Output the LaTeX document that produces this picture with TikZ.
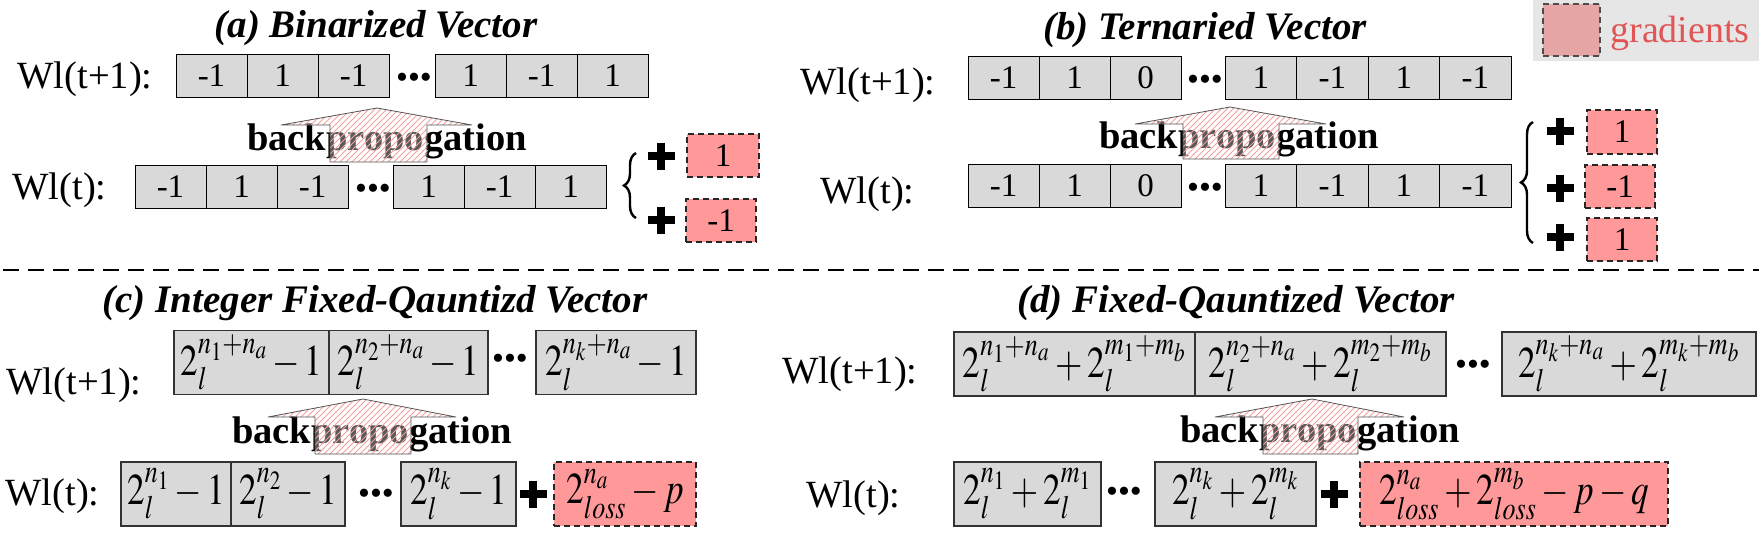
\documentclass[tikz,border=0pt]{standalone}
\usepackage{graphicx}
\usepackage{mathptmx}
\usepackage{fontspec}
\setmainfont{Liberation Serif}
\usetikzlibrary{patterns,decorations.pathreplacing}
\definecolor{cellgray}{HTML}{D9D9D9}
\definecolor{gradpink}{HTML}{FF9999}
\definecolor{legpink}{HTML}{E6A6A6}
\definecolor{legbg}{HTML}{E6E6E6}
\definecolor{legred}{HTML}{E05555}
\definecolor{arrowline}{HTML}{555555}
\definecolor{hatchpink}{HTML}{F2A0A0}

\newcommand{\titlefont}{\fontsize{19.5pt}{23pt}\selectfont\bfseries\itshape}
\newcommand{\lblfont}{\fontsize{19.25pt}{23pt}\selectfont}
\newcommand{\cellfont}{\fontsize{16.5pt}{20pt}\selectfont}
\newcommand{\bpfont}{\fontsize{19.25pt}{23pt}\selectfont\bfseries}
\newcommand{\eqfont}{\fontsize{22pt}{26pt}\selectfont}
\newcommand{\dotfont}{\fontsize{17pt}{20pt}\selectfont}
\newcommand{\legfont}{\fontsize{19pt}{23pt}\selectfont}
\newcommand{\qexpr}[1]{\scalebox{0.8}[1]{$#1$}}
\newcommand{\bigplus}[2]{\draw[line width=4pt] ({#1-13.5},#2) -- ({#1+13.5},#2) (#1,{#2-13.5}) -- (#1,{#2+13.5});}

\tikzset{
  wd/.style={minimum width=#1*0.5pt},
  ht/.style={minimum height=#1*0.5pt},
  cell/.style={draw=black, line width=0.5pt, fill=cellgray, inner sep=0pt, font=\cellfont, ht=43},
  bigcell/.style={draw=black!80, line width=0.8pt, fill=cellgray, inner sep=0pt, font=\eqfont, ht=64},
  gradbox/.style={draw=black!85, dash pattern=on 3pt off 2pt, line width=0.6pt, fill=gradpink, inner sep=0pt, font=\cellfont, ht=43},
  title/.style={anchor=base, inner sep=0pt, font=\titlefont},
  wlabel/.style={anchor=base east, inner sep=0pt, font=\lblfont},
  bptext/.style={anchor=base, inner sep=0pt, font=\bpfont},
  rowdots/.style={inner sep=0pt, font=\dotfont},
  bparrow/.style={draw=arrowline, line width=0.4pt, pattern=north east lines, pattern color=hatchpink, preaction={fill=white, fill opacity=0.35}},
  vbrace/.style={decorate, decoration={brace, amplitude=6pt}, line width=1.2pt},
}

\begin{document}
\begin{tikzpicture}[x=0.5pt,y=-0.5pt]
\useasboundingbox (0,0) rectangle (1759,532);
% legend
\fill[legbg] (1533,0) rectangle (1759,61);
\node[gradbox, fill=legpink, draw=black!70, wd=57, ht=52] (legbox) at (1571.5,30) {};
\node[anchor=base west, inner sep=0pt, font=\legfont, text=legred] (legtext) at (1610,42) {gradients};

% (a) binarized
\node[title] (atitle) at (376,37) {(a) Binarized Vector};
\node[wlabel] (aupl) at (153,88) {Wl(t+1):};
\node[cell,wd=71] (au1) at (211.5,75.5) {-1};
\node[cell,wd=71] (au2) at (282.5,75.5) {1};
\node[cell,wd=71] (au3) at (353.5,75.5) {-1};
\node[rowdots] (audots) at (414,81) {•••};
\node[cell,wd=71] (au4) at (470.5,75.5) {1};
\node[cell,wd=71] (au5) at (541.5,75.5) {-1};
\node[cell,wd=71] (au6) at (612.5,75.5) {1};
\node[bptext] (abp) at (387,150) {backpropogation};
\draw[bparrow] (281,125) -- (377,108) -- (472,125) -- (427,125) -- (427,162) -- (330,162) -- (330,125) -- cycle;
\node[wlabel] (adnl) at (107,199) {Wl(t):};
\node[cell,wd=71] (ad1) at (170.5,186.5) {-1};
\node[cell,wd=71] (ad2) at (241.5,186.5) {1};
\node[cell,wd=71] (ad3) at (312.5,186.5) {-1};
\node[rowdots] (addots) at (373,192) {•••};
\node[cell,wd=71] (ad4) at (428.5,186.5) {1};
\node[cell,wd=71] (ad5) at (499.5,186.5) {-1};
\node[cell,wd=71] (ad6) at (570.5,186.5) {1};
\coordinate (abrb) at (636,218);
\coordinate (abrt) at (636,153);
\draw[vbrace] (abrb) -- (abrt);
\bigplus{661}{156}
\bigplus{661}{220}
\node[gradbox,wd=72] (ag1) at (723,155.5) {1};
\node[gradbox,wd=70] (ag2) at (721,220.5) {-1};

% (b) ternaried
\node[title] (btitle) at (1205,39) {(b) Ternaried Vector};
\node[wlabel] (bupl) at (936,94) {Wl(t+1):};
\node[cell,wd=71] (bu1) at (1003.5,77.5) {-1};
\node[cell,wd=71] (bu2) at (1074.5,77.5) {1};
\node[cell,wd=71] (bu3) at (1145.5,77.5) {0};
\node[rowdots] (budots) at (1205,83) {•••};
\node[cell,wd=71.5] (bu4) at (1260.75,77.5) {1};
\node[cell,wd=71.5] (bu5) at (1332.25,77.5) {-1};
\node[cell,wd=71.5] (bu6) at (1403.75,77.5) {1};
\node[cell,wd=71.5] (bu7) at (1475.25,77.5) {-1};
\node[bptext] (bbp) at (1239,148) {backpropogation};
\draw[bparrow] (1135,124) -- (1230,107) -- (1326,124) -- (1279,124) -- (1279,159) -- (1183,159) -- (1183,124) -- cycle;
\node[wlabel] (bdnl) at (915,203) {Wl(t):};
\node[cell,wd=71] (bd1) at (1003.5,185.5) {-1};
\node[cell,wd=71] (bd2) at (1074.5,185.5) {1};
\node[cell,wd=71] (bd3) at (1145.5,185.5) {0};
\node[rowdots] (bddots) at (1205,191) {•••};
\node[cell,wd=71.5] (bd4) at (1260.75,185.5) {1};
\node[cell,wd=71.5] (bd5) at (1332.25,185.5) {-1};
\node[cell,wd=71.5] (bd6) at (1403.75,185.5) {1};
\node[cell,wd=71.5] (bd7) at (1475.25,185.5) {-1};
\coordinate (bbrb) at (1533,243);
\coordinate (bbrt) at (1533,122);
\draw[vbrace] (bbrb) -- (bbrt);
\bigplus{1560}{131}
\bigplus{1560}{188}
\bigplus{1560}{237}
\node[gradbox,wd=70,ht=44] (bg1) at (1622,132) {1};
\node[gradbox,wd=70] (bg2) at (1620,186.5) {-1};
\node[gradbox,wd=70] (bg3) at (1622,239.5) {1};

% separator
\coordinate (sepl) at (3,270);
\coordinate (sepr) at (1759,270);
\draw[dash pattern=on 8pt off 4.5pt, line width=1pt] (sepl) -- (sepr);

% (c) integer fixed
\node[title] (ctitle) at (375,312) {(c) Integer Fixed-Qauntizd Vector};
\node[wlabel] (cupl) at (142,394) {Wl(t+1):};
\node[bigcell,wd=155] (cu1) at (251.5,362.5) {\qexpr{2_l^{n_1+n_a}-1}};
\node[bigcell,wd=159] (cu2) at (408.5,362.5) {\qexpr{2_l^{n_2+n_a}-1}};
\node[rowdots] (cudots) at (510,362) {•••};
\node[bigcell,wd=160] (cu3) at (616,362.5) {\qexpr{2_l^{n_k+n_a}-1}};
\node[bptext] (cbp) at (372,443) {backpropogation};
\draw[bparrow] (268,417) -- (363,399) -- (456,417) -- (411,417) -- (411,454) -- (315,454) -- (315,417) -- cycle;
\node[wlabel] (cdnl) at (100,505) {Wl(t):};
\node[bigcell,wd=110] (cd1) at (176,494) {\qexpr{2_l^{n_1}-1}};
\node[bigcell,wd=114] (cd2) at (288,494) {\qexpr{2_l^{n_2}-1}};
\node[rowdots] (cddots) at (376,497) {•••};
\node[bigcell,wd=115] (cd3) at (458.5,494) {\qexpr{2_l^{n_k}-1}};
\bigplus{533}{494}
\node[gradbox,font=\eqfont,wd=142,ht=64] (cg1) at (625,494) {\qexpr{2_{loss}^{n_a}-p}};

% (d) fixed quantized
\node[title] (dtitle) at (1236,312) {(d) Fixed-Qauntized Vector};
\node[wlabel] (dupl) at (918,383) {Wl(t+1):};
\node[bigcell,wd=241] (du1) at (1074.5,364) {\qexpr{2_l^{n_1+n_a}+2_l^{m_1+m_b}}};
\node[bigcell,wd=251] (du2) at (1320.5,364) {\qexpr{2_l^{n_2+n_a}+2_l^{m_2+m_b}}};
\node[rowdots] (dudots) at (1473,368) {•••};
\node[bigcell,wd=254] (du3) at (1629,364) {\qexpr{2_l^{n_k+n_a}+2_l^{m_k+m_b}}};
\node[bptext] (dbp) at (1320,442) {backpropogation};
\draw[bparrow] (1215,417) -- (1312,399) -- (1404,417) -- (1358,417) -- (1358,454) -- (1263,454) -- (1263,417) -- cycle;
\node[wlabel] (ddnl) at (901,507) {Wl(t):};
\node[bigcell,wd=147] (dd1) at (1027.5,494) {\qexpr{2_l^{n_1}+2_l^{m_1}}};
\node[rowdots] (dddots) at (1124,495) {•••};
\node[bigcell,wd=161] (dd2) at (1235.5,494) {\qexpr{2_l^{n_k}+2_l^{m_k}}};
\bigplus{1334}{494}
\node[gradbox,font=\eqfont,wd=308,ht=64] (dg1) at (1514,494) {\qexpr{2_{loss}^{n_a}+2_{loss}^{m_b}-p-q}};
\end{tikzpicture}
\end{document}
